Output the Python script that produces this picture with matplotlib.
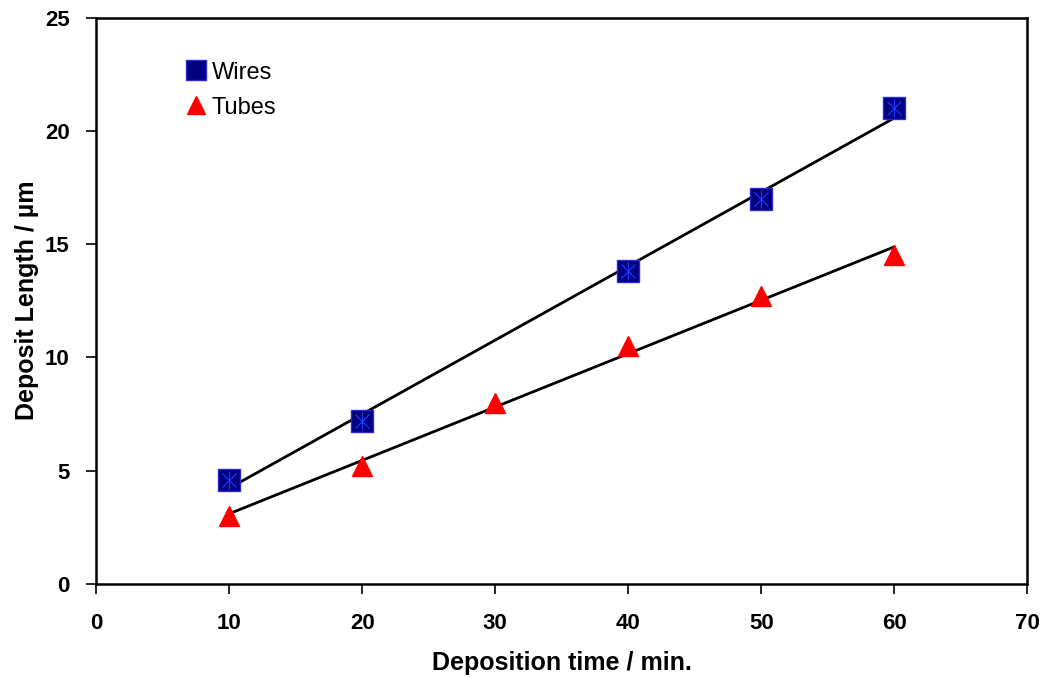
import matplotlib
matplotlib.use('Agg')
import matplotlib.pyplot as plt
import numpy as np

# data
wire_t = [10, 20, 40, 50, 60]
wire_len = [4.6, 7.2, 13.8, 17.0, 21.0]
tube_t = [10, 20, 30, 40, 50, 60]
tube_len = [3.0, 5.2, 8.0, 10.5, 12.7, 14.5]

plt.rcParams['font.family'] = ['Liberation Sans', 'DejaVu Sans']

fig = plt.figure(figsize=(10.45, 6.78), dpi=100)
ax = fig.add_axes([0.092, 0.139, 0.891, 0.835])

# linear trend lines
for t, l in [(wire_t, wire_len), (tube_t, tube_len)]:
    p = np.polyfit(t, l, 1)
    xx = np.array([t[0], t[-1]])
    ax.plot(xx, np.polyval(p, xx), c='k', lw=2, zorder=2)

ax.plot(wire_t, wire_len, 's', ms=16, mfc='#000080', mec='#2a2ad0', mew=1,
        ls='none', label='Wires', zorder=3)
ax.plot(wire_t, wire_len, 'x', ms=10, mec='#1f3cff', mew=0.8, ls='none', zorder=4)
ax.plot(wire_t, wire_len, '|', ms=13, mec='#1f3cff', mew=0.8, ls='none', zorder=4)
ax.plot(tube_t, tube_len, '^', ms=15, mfc='red', mec='red',
        ls='none', label='Tubes', zorder=3)

ax.set_xlim(0, 70)
ax.set_ylim(0, 25)
ax.set_xticks(range(0, 71, 10))
ax.set_yticks(range(0, 26, 5))
ax.tick_params(direction='out', length=7, width=1.2, labelsize=16)
ax.tick_params(axis='x', pad=14)
ax.tick_params(axis='y', pad=12)
for lab in ax.get_xticklabels() + ax.get_yticklabels():
    lab.set_fontweight('bold')
for s in ax.spines.values():
    s.set_linewidth(1.8)

ax.set_xlabel('Deposition time / min.', fontsize=18, fontweight='bold', labelpad=12)
ax.set_ylabel('Deposit Length / \u00b5m', fontsize=18, fontweight='bold', labelpad=4)

ax.legend(loc='upper left', bbox_to_anchor=(0.072, 0.96), frameon=False,
          fontsize=17, handletextpad=0.15, handlelength=1.0, labelspacing=0.55,
          markerscale=0.9)

plt.savefig('out.png')
